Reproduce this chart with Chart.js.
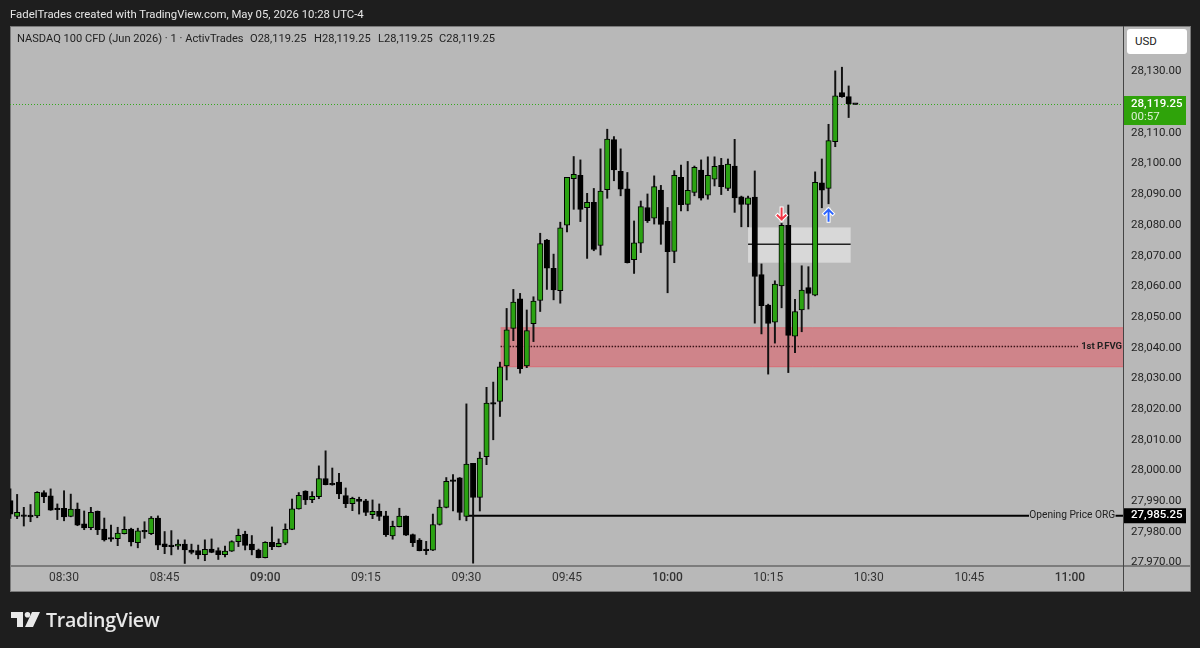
<!DOCTYPE html>
<html>
<head>
<meta charset="utf-8">
<style>
  html, body { margin: 0; padding: 0; background: #1e1e1e; width: 1200px; height: 648px; overflow: hidden; font-family: Roboto, sans-serif; }
  #panel { position: absolute; left: 10px; top: 26px; width: 1179px; height: 564px; background: #b8b8b8; border: 1px solid #7a7a7a; }
  #hsep { position: absolute; left: 10px; top: 565px; width: 1180px; height: 2px; background: #7c7c7c; }
  #vsep { position: absolute; left: 1123px; top: 26px; width: 1px; height: 565px; background: #444; }
  canvas { position: absolute; left: 0; top: 0; }
  #caption { position: absolute; left: 10px; top: 5px; color: #e6e6e6; font-size: 11.35px; line-height: 18px; white-space: nowrap; }
  .legend { position: absolute; top: 30px; color: #222; font-size: 11.1px; line-height: 18px; white-space: pre; }
  #usd { position: absolute; left: 1127px; top: 29px; width: 60px; height: 25px; background: #fff; border-radius: 3px; color: #222; font-size: 11.5px; line-height: 25px; text-indent: 8px; }
  #logo { position: absolute; left: 10px; top: 610px; }
  #brand { position: absolute; left: 46px; top: 606px; color: #e8e8e8; font: 600 19.6px/28px "Open Sans", sans-serif; letter-spacing: -0.3px; }
</style>
</head>
<body>
<div id="panel"></div>
<canvas id="chart" width="1200" height="648"></canvas>
<div id="hsep"></div>
<div id="vsep"></div>
<div id="caption">FadelTrades created with TradingView.com, May 05, 2026 10:28 UTC-4</div>
<div class="legend" style="left:17px">NASDAQ 100 CFD (Jun 2026) · 1 · ActivTrades</div>
<div class="legend" style="left:250px">O28,119.25</div>
<div class="legend" style="left:314px">H28,119.25</div>
<div class="legend" style="left:378px">L28,119.25</div>
<div class="legend" style="left:439px">C28,119.25</div>
<div id="usd">USD</div>
<svg id="logo" width="32" height="20" viewBox="0 0 32 20">
  <path d="M1 2h12v15H7V8H1z M22 2h8l-7 15h-8z" fill="#e8e8e8"/>
  <circle cx="17.5" cy="4.8" r="2.8" fill="#e8e8e8"/>
</svg>
<div id="brand">TradingView</div>

<script src="https://cdn.jsdelivr.net/npm/chart.js@4"></script>
<script>
// minutes since midnight, one candle per minute
const minutes = [
  502,503,504,505,506,507,508,509,510,511,512,513,514,515,516,517,518,519,520,521,
  522,523,524,525,526,527,528,529,530,531,532,533,534,535,536,537,538,539,540,541,
  542,543,544,545,546,547,548,549,550,551,552,553,554,555,556,557,558,559,560,561,
  562,563,564,565,566,567,568,569,570,571,572,573,574,575,576,577,578,579,580,581,
  582,583,584,585,586,587,588,589,590,591,592,593,594,595,596,597,598,599,600,601,
  602,603,604,605,606,607,608,609,610,611,612,613,614,615,616,617,618,619,620,621,
  622,623,624,625,626,627,628
];
const opens = [
  27990.2,27985.0,27985.2,27985.5,27985.2,27992.8,27991.7,27987.7,27987.7,27985.0,
  27987.4,27982.6,27981.4,27986.7,27980.9,27978.1,27977.8,27979.4,27980.9,27976.5,
  27980.3,27979.4,27984.5,27976.1,27975.4,27975.3,27976.0,27974.1,27973.9,27972.6,
  27974.4,27973.9,27972.6,27973.7,27976.8,27979.3,27976.0,27974.1,27971.6,27976.6,
  27975.2,27976.3,27980.8,27987.5,27993.3,27990.5,27991.5,27997.4,27995.6,27996.2,
  27991.8,27989.2,27990.6,27990.1,27985.6,27986.7,27985.2,27978.7,27981.7,27985.1,
  27979.1,27977.3,27974.1,27974.0,27982.4,27988.0,27996.6,27997.6,27985.0,28002.3,
  27991.2,28004.5,28021.9,28022.5,28034.1,28046.3,28055.9,28034.1,28047.8,28055.4,
  28075.1,28065.9,28058.6,28079.9,28095.1,28096.2,28085.6,28087.4,28073.3,28091.5,
  28107.8,28097.5,28091.8,28068.7,28074.1,28085.7,28082.2,28091.4,28081.2,28071.4,
  28095.5,28086.7,28090.6,28097.9,28089.7,28094.9,28099.4,28091.9,28099.2,28089.2,
  28086.7,28089.1,28063.8,28053.9,28048.3,28060.1,28079.9,28043.8,28052.3,28059.6,
  28057.1,28093.7,28091.9,28107.1,28123.1,28121.8,28119.25
];
const highs = [
  27994.0,27992.2,27988.0,27988.9,27993.1,27993.4,27994.0,27989.1,27993.4,27992.3,
  27989.4,27986.8,27988.0,27986.8,27984.5,27982.2,27981.5,27984.9,27981.2,27981.2,
  27983.3,27985.0,27985.2,27980.1,27980.4,27977.4,27977.4,27976.0,27975.7,27977.4,
  27977.7,27974.8,27975.4,27977.1,27980.9,27980.2,27978.8,27974.4,27976.8,27981.6,
  27977.7,27982.6,27990.7,27992.8,27993.4,27993.1,28001.5,28006.4,28000.8,27999.1,
  27994.3,27991.3,27991.3,27990.6,27990.4,27989.1,27986.7,27983.5,27987.7,27985.2,
  27979.3,27977.8,27976.9,27985.8,27990.4,27997.7,27998.7,27997.7,28021.7,28002.3,
  28006.0,28027.1,28028.8,28035.3,28052.8,28059.0,28057.7,28052.3,28056.6,28077.3,
  28075.3,28070.5,28080.9,28095.5,28102.3,28101.2,28090.3,28091.9,28104.8,28111.2,
  28108.8,28104.8,28097.1,28081.3,28087.8,28090.1,28096.0,28092.9,28085.7,28097.7,
  28099.5,28100.7,28099.2,28101.2,28102.2,28102.2,28101.7,28101.5,28107.9,28089.4,
  28089.4,28097.6,28067.3,28054.2,28061.8,28080.5,28086.5,28055.8,28066.7,28066.4,
  28097.3,28101.5,28112.8,28130.2,28131.4,28125.3,28119.25
];
const lows = [
  27984.4,27984.3,27981.9,27983.3,27984.6,27989.5,27987.0,27984.0,27983.6,27984.9,
  27982.0,27980.7,27980.7,27979.1,27977.0,27976.9,27975.5,27979.3,27975.4,27974.8,
  27977.9,27979.1,27974.2,27972.9,27972.5,27974.3,27969.7,27972.8,27971.2,27970.6,
  27973.2,27971.0,27971.8,27973.6,27975.2,27974.1,27972.5,27971.5,27971.5,27974.2,
  27975.1,27975.8,27980.7,27987.4,27988.9,27989.5,27990.8,27995.3,27995.2,27990.8,
  27987.9,27986.9,27985.8,27985.3,27984.3,27983.7,27978.5,27977.6,27981.6,27978.8,
  27975.2,27973.8,27972.6,27973.9,27982.2,27987.8,27986.8,27983.9,27983.6,27969.8,
  27986.8,28001.9,28010.0,28017.6,28029.5,28042.3,28031.7,28033.5,28042.0,28051.8,
  28059.0,28055.6,28054.5,28077.7,28085.1,28081.1,28069.1,28071.6,28070.2,28088.7,
  28094.4,28089.5,28067.6,28064.2,28071.0,28080.8,28080.3,28073.7,28057.9,28067.7,
  28084.6,28084.6,28089.5,28088.1,28088.4,28092.7,28089.9,28091.2,28084.1,28079.4,
  28079.4,28048.0,28044.5,28031.4,28041.5,28053.0,28031.9,28038.4,28045.2,28052.6,
  28056.9,28085.6,28086.9,28105.5,28121.6,28115.0,28119.25
];
const closes = [
  27985.8,27986.4,27985.0,27984.9,27992.9,27991.5,27987.1,27987.2,27984.9,27987.4,
  27982.2,27981.3,27986.4,27980.7,27977.4,27977.6,27979.6,27980.8,27976.7,27980.3,
  27980.0,27984.5,27975.7,27975.2,27975.2,27976.0,27974.1,27973.3,27972.5,27974.3,
  27973.3,27972.6,27973.7,27976.8,27978.9,27975.6,27974.1,27971.6,27976.6,27975.2,
  27976.3,27980.8,27987.5,27991.9,27990.4,27991.6,27997.4,27995.4,27995.3,27992.4,
  27989.2,27990.9,27989.9,27986.3,27986.7,27985.0,27979.1,27981.8,27985.1,27978.9,
  27976.5,27973.9,27973.9,27982.4,27988.1,27996.5,27996.4,27986.3,28002.1,27991.2,
  28004.0,28022.0,28021.6,28033.8,28045.8,28054.9,28033.2,28045.6,28055.2,28073.9,
  28065.9,28058.8,28079.1,28095.5,28096.5,28085.1,28087.4,28072.0,28091.0,28108.0,
  28097.9,28091.7,28067.7,28074.2,28086.0,28081.4,28092.5,28080.2,28071.3,28096.2,
  28086.6,28091.3,28098.8,28088.7,28096.2,28099.1,28092.5,28099.8,28088.8,28086.7,
  28088.8,28063.2,28053.7,28047.9,28060.7,28079.9,28044.0,28051.8,28058.8,28057.7,
  28093.9,28091.3,28107.5,28122.1,28121.8,28119.4,28119.25
];

const priceTicks = [28130,28110,28100,28090,28080,28070,28060,28050,28040,28030,28020,28010,28000,27990,27980,27970];
const timeTicks = [510,525,540,555,570,585,600,615,630,645,660];
const timeLabels = ['08:30','08:45','09:00','09:15','09:30','09:45','10:00','10:15','10:30','10:45','11:00'];

const lastPrice = 28119.25;
const openingPrice = 27985.25;
const openingLineFrom = 570;
const openingLineTo = 653.9;
const openingLineTail = 666.8;
const fvgFrom = 575.1;
const fvgHigh = 28046.5;
const fvgLow = 28033.8;
const fvgMid = 28040.4;
const fvgMidEnd = 661.2;
const boxFrom = 612;
const boxTo = 627.3;
const boxHigh = 28079.2;
const boxLow = 28067.7;
const boxMid = 28073.7;
const arrowDown = [617, 28083.6];
const arrowUp = [624, 28083.2];

const xMin = 501.94;
const xMax = 668.06;
const yMin = 27969.2;
const yMax = 28144.83;

const green = '#2ba312';
const uiFont = 'Roboto, sans-serif';

const fmt = v => v.toLocaleString('en-US', { minimumFractionDigits: 2, maximumFractionDigits: 2 });

const candleBodies = minutes.map((m, i) => ({ x: m, y: [opens[i], closes[i]] }));
const candleWicks = minutes.map((m, i) => ({ x: m, y: [lows[i], highs[i]] }));
const bodyColors = minutes.map((m, i) => closes[i] > opens[i] ? green : '#000');

function tag(ctx, y, h, fill) {
  ctx.fillStyle = fill;
  ctx.fillRect(1124, y, 62, h);
}

function arrow(ctx, x, y, dir, color) {
  // dir 1 points down, -1 points up
  ctx.beginPath();
  ctx.moveTo(x, y - dir * 5.5);
  ctx.lineTo(x, y + dir * 5.5);
  ctx.moveTo(x - 4, y + dir * 1.5);
  ctx.lineTo(x, y + dir * 5.5);
  ctx.lineTo(x + 4, y + dir * 1.5);
  ctx.lineCap = 'square';
  ctx.strokeStyle = '#fff';
  ctx.lineWidth = 4;
  ctx.stroke();
  ctx.strokeStyle = color;
  ctx.lineWidth = 2;
  ctx.stroke();
}

const zones = {
  id: 'zones',
  beforeDatasetsDraw(chart) {
    const { ctx, scales: { x, y }, chartArea } = chart;
    ctx.save();
    const fx = x.getPixelForValue(fvgFrom);
    const fy = y.getPixelForValue(fvgHigh);
    const fh = y.getPixelForValue(fvgLow) - fy;
    ctx.fillStyle = 'rgba(242,54,69,0.4)';
    ctx.fillRect(fx, fy, chartArea.right - fx, fh);
    ctx.strokeStyle = 'rgba(225,90,100,0.7)';
    ctx.lineWidth = 1;
    ctx.beginPath();
    ctx.moveTo(fx, fy); ctx.lineTo(chartArea.right, fy);
    ctx.moveTo(fx, fy + fh); ctx.lineTo(chartArea.right, fy + fh);
    ctx.stroke();

    const bx = x.getPixelForValue(boxFrom);
    const by = y.getPixelForValue(boxHigh);
    ctx.fillStyle = 'rgba(240,240,240,0.58)';
    ctx.fillRect(bx, by, x.getPixelForValue(boxTo) - bx, y.getPixelForValue(boxLow) - by);
    ctx.restore();
  },
  afterDraw(chart) {
    const { ctx, scales: { x, y }, chartArea } = chart;
    ctx.save();
    arrow(ctx, x.getPixelForValue(arrowDown[0]), y.getPixelForValue(arrowDown[1]), 1, '#f23645');
    arrow(ctx, x.getPixelForValue(arrowUp[0]), y.getPixelForValue(arrowUp[1]), -1, '#2962ff');

    ctx.textBaseline = 'middle';
    ctx.textAlign = 'right';
    ctx.fillStyle = '#222';
    ctx.font = '700 9.5px ' + uiFont;
    ctx.fillText('1st P.FVG', chartArea.right - 2, y.getPixelForValue(fvgMid));
    ctx.font = '10.2px ' + uiFont;
    ctx.textAlign = 'center';
    ctx.fillText('Opening Price ORG', x.getPixelForValue((openingLineTo + openingLineTail) / 2), y.getPixelForValue(openingPrice));

    ctx.textAlign = 'left';
    const ly = y.getPixelForValue(lastPrice);
    tag(ctx, ly - 8.5, 29, '#2fa30a');
    ctx.fillStyle = '#fff';
    ctx.font = '500 11.5px ' + uiFont;
    ctx.fillText(fmt(lastPrice), 1131, ly - 0.5);
    ctx.fillStyle = '#dcf0d4';
    ctx.font = '11.5px ' + uiFont;
    ctx.fillText('00:57', 1131, ly + 12.5);

    const oy = y.getPixelForValue(openingPrice);
    tag(ctx, oy - 7.5, 15, '#000');
    ctx.fillStyle = '#fff';
    ctx.font = '500 11.5px ' + uiFont;
    ctx.fillText(fmt(openingPrice), 1131, oy - 0.5);
    ctx.restore();
  }
};

new Chart(document.getElementById('chart'), {
  type: 'bar',
  plugins: [zones],
  data: {
    datasets: [
      { data: candleBodies, backgroundColor: bodyColors, borderColor: '#000', borderWidth: 1, barThickness: 5.4, minBarLength: 1.6, borderSkipped: false, grouped: false },
      { data: candleWicks, backgroundColor: '#111', borderWidth: 0, barThickness: 1.3, grouped: false },
      { type: 'line', data: [{ x: boxFrom, y: boxMid }, { x: boxTo, y: boxMid }], borderColor: '#222', borderWidth: 1.5, pointRadius: 0 },
      { type: 'line', data: [{ x: fvgFrom, y: fvgMid }, { x: fvgMidEnd, y: fvgMid }], borderColor: '#3a1216', borderWidth: 1.3, borderDash: [1.5, 1.5], pointRadius: 0 },
      { type: 'line', data: [{ x: openingLineFrom, y: openingPrice }, { x: openingLineTo, y: openingPrice }], borderColor: '#000', borderWidth: 2, pointRadius: 0 },
      { type: 'line', data: [{ x: openingLineTail, y: openingPrice }, { x: xMax, y: openingPrice }], borderColor: '#000', borderWidth: 2, pointRadius: 0 },
      { type: 'line', data: [{ x: xMin, y: lastPrice }, { x: xMax, y: lastPrice }], borderColor: '#35a81e', borderWidth: 1, borderDash: [1, 2], pointRadius: 0 }
    ]
  },
  options: {
    responsive: false,
    animation: false,
    layout: { padding: { left: 10, top: 26, right: 10, bottom: 58 } },
    plugins: { legend: { display: false }, tooltip: { enabled: false } },
    scales: {
      x: {
        type: 'linear',
        offset: false,
        min: xMin,
        max: xMax,
        afterBuildTicks: s => { s.ticks = timeTicks.map(v => ({ value: v })); },
        afterFit: s => { s.height = 25; },
        grid: { display: false, drawTicks: false },
        border: { display: false },
        ticks: {
          autoSkip: false,
          maxRotation: 0,
          padding: 6,
          color: '#333',
          font: c => ({ family: uiFont, size: 12, weight: c.tick && c.tick.value % 60 === 0 ? '500' : '400' }),
          callback: v => timeLabels[timeTicks.indexOf(v)]
        }
      },
      y: {
        position: 'right',
        min: yMin,
        max: yMax,
        afterBuildTicks: s => { s.ticks = priceTicks.map(v => ({ value: v })); },
        afterFit: s => { s.width = 66; },
        grid: { display: false, drawTicks: false },
        border: { display: false },
        ticks: {
          autoSkip: false,
          padding: 7,
          color: '#222',
          font: { family: uiFont, size: 11.5 },
          callback: v => fmt(v)
        }
      }
    }
  }
});
</script>
</body>
</html>
